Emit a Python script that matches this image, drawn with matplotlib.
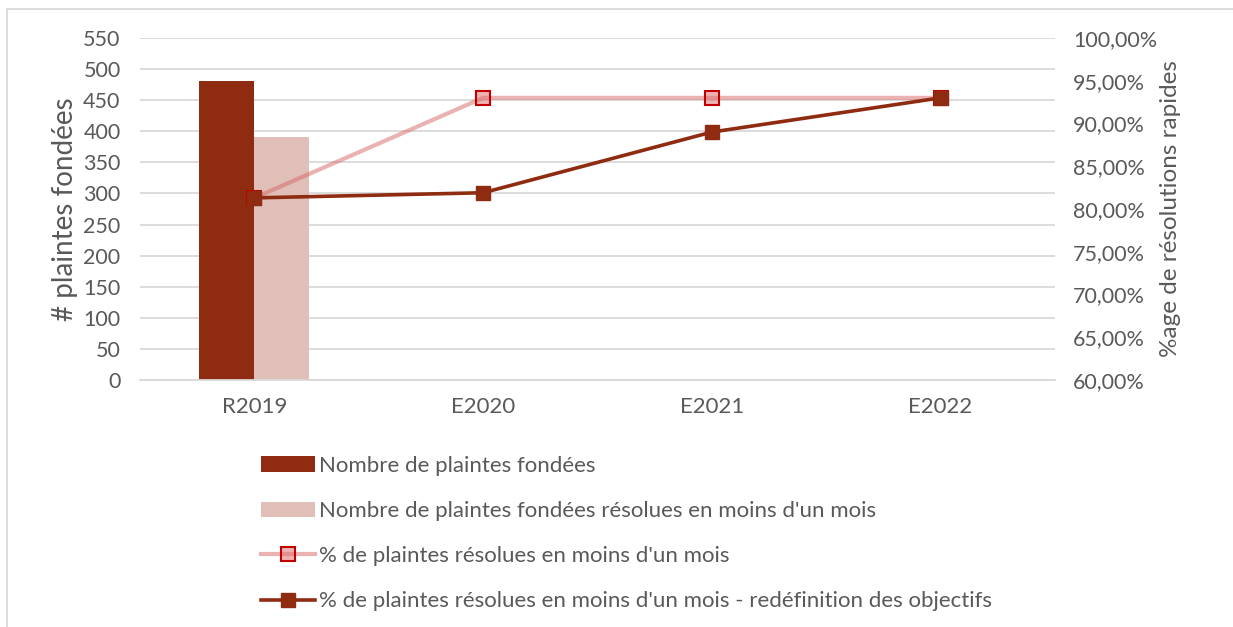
import matplotlib.pyplot as plt
from matplotlib.lines import Line2D
from matplotlib.ticker import FuncFormatter
import numpy as np

plt.rcParams['font.family'] = ['Lato', 'DejaVu Sans']

categories = ['R2019', 'E2020', 'E2021', 'E2022']
plaintes_fondees = [481]
plaintes_resolues = [391]
pct_resolues = [81.3, 93.0, 93.0, 93.0]
pct_redefinition = [81.3, 81.9, 89.0, 93.0]

grey = '#595959'
dark = '#8F2B10'
light_bar = '#DFBFB7'

fig = plt.figure(figsize=(12.33, 6.27), dpi=100)
ax = fig.add_axes([140/1233, 1 - 380/627, 915/1233, 342/627])
ax2 = ax.twinx()

x = np.arange(len(categories))
w = 0.24
ax.bar(x[:1] - w/2, plaintes_fondees, w, color=dark, zorder=2,
       label='Nombre de plaintes fondées')
ax.bar(x[:1] + w/2, plaintes_resolues, w, color=light_bar, zorder=2,
       label="Nombre de plaintes fondées résolues en moins d'un mois")

ax2.plot(x, pct_resolues, color=(0.85, 0.40, 0.40, 0.5), lw=3,
         marker='s', ms=9.5, mfc=(0.88, 0.45, 0.45, 0.55), mec='#C00000', mew=1.5,
         label="% de plaintes résolues en moins d'un mois")
ax2.plot(x, pct_redefinition, color=dark, lw=2.6, marker='s', ms=10,
         mfc=dark, mec=dark,
         label="% de plaintes résolues en moins d'un mois - redéfinition des objectifs")

ax.set_xlim(-0.5, 3.5)
ax.set_ylim(0, 550)
ax.set_yticks(np.arange(0, 551, 50))
ax2.set_ylim(60, 100)
ax2.set_yticks(np.arange(60, 101, 5))
ax2.yaxis.set_major_formatter(FuncFormatter(lambda v, p: f'{v:.2f}%'.replace('.', ',')))

ax.set_xticks(x)
ax.set_xticklabels(categories)
ax.grid(axis='y', color='#D9D9D9', lw=1.3, zorder=0)
ax.set_axisbelow(True)
for a in (ax, ax2):
    for s in ('top', 'left', 'right', 'bottom'):
        a.spines[s].set_visible(False)
    a.tick_params(length=0, labelsize=15.5, colors=grey)
ax.tick_params(axis='x', labelsize=16)
ax.spines['bottom'].set_visible(True)
ax.spines['bottom'].set_color('#D9D9D9')
ax.spines['bottom'].set_linewidth(1.3)
ax.tick_params(axis='y', pad=14)
ax.tick_params(axis='x', pad=12)
ax2.tick_params(axis='y', pad=13)

ax.set_ylabel('# plaintes fondées', fontsize=20, color=grey, labelpad=4)
ax2.set_ylabel('%age de résolutions rapides', fontsize=17.5, color=grey, labelpad=2)

h1, l1 = ax.get_legend_handles_labels()
h2, l2 = ax2.get_legend_handles_labels()
fig.legend(h1 + h2, l1 + l2, loc='upper left', bbox_to_anchor=(241/1233, 1 - 436/627),
           frameon=False, fontsize=16, labelcolor=grey, handlelength=2.45,
           handletextpad=0.15, labelspacing=1.13)

# chart frame (top and left edges visible)
fig.add_artist(Line2D([7/1233, 1], [1 - 9/627, 1 - 9/627], color='#D9D9D9', lw=1.3))
fig.add_artist(Line2D([7/1233, 7/1233], [0, 1 - 9/627], color='#D9D9D9', lw=1.3))

fig.savefig('out.png', dpi=100)
